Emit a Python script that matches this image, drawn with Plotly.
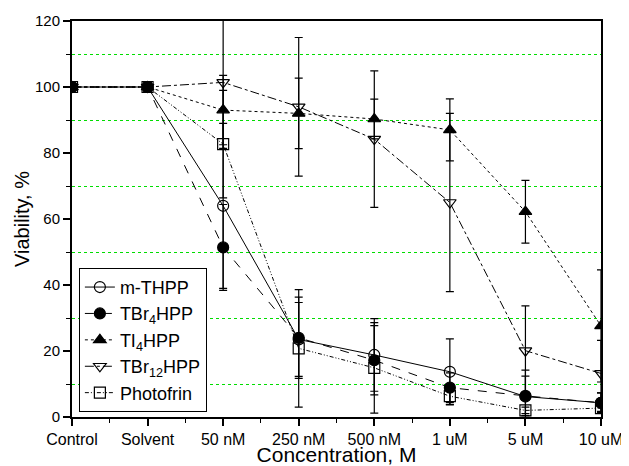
import plotly.graph_objects as go

categories = ["Control", "Solvent", "50 nM", "250 nM", "500 nM", "1 uM", "5 uM", "10 uM"]

mthpp = [100, 100, 64, 23.5, 18.8, 13.7, 6.2, 4.3]
mthpp_err = [0, 1.5, 25, 11.2, 11, 10, 8, 3]

tbr4 = [100, 100, 51.4, 24, 17.2, 8.9, 6.4, 4.3]
tbr4_err = [0, 1.5, 13, 12.3, 10.5, 4.5, 6, 3]

ti4 = [100, 100, 93, 92, 90.3, 87, 62.2, 27.6]
ti4_err = [0, 1.5, 10.5, 10.7, 6, 9.4, 9.5, 17]

tbr12 = [100, 100, 101.4, 94, 84.2, 65, 20.1, 13.2]
tbr12_err = [0, 1.5, 20, 21, 20.7, 27, 13.6, 10]

photofrin = [100, 100, 82.7, 20.8, 14.9, 6.3, 2, 2.7]
photofrin_err = [0, 1.5, 16.3, 17.8, 13.7, 2.5, 1, 1]

names = ["m-THPP", "TBr<sub>4</sub>HPP", "TI<sub>4</sub>HPP", "TBr<sub>12</sub>HPP", "Photofrin"]
series = [mthpp, tbr4, ti4, tbr12, photofrin]
errors = [mthpp_err, tbr4_err, ti4_err, tbr12_err, photofrin_err]
dashes = ["solid", "dash", "dot", "dashdot", "4px,2px,1px,2px,1px,2px"]
symbols = ["circle-open", "circle", "triangle-up", "triangle-down-open", "square-open"]

x = list(range(len(categories)))

fig = go.Figure()
for name, ys, err, dash, sym in zip(names, series, errors, dashes, symbols):
    fig.add_trace(go.Scatter(
        x=x, y=ys, name=name, mode="lines+markers",
        line=dict(color="black", width=1, dash=dash),
        marker=dict(symbol=sym, size=11, color="black",
                    line=dict(color="black", width=1.2)),
        error_y=dict(type="data", array=err, visible=True,
                     color="black", thickness=1.2, width=4),
    ))

font = "Liberation Sans, Arial, sans-serif"
# page body has an 8px margin: figure is sized/offset to compensate
fig.update_layout(
    width=621, height=458,
    margin=dict(l=64, r=28, t=13, b=49),
    paper_bgcolor="white", plot_bgcolor="white",
    font=dict(family=font, color="black", size=15),
    showlegend=True,
    legend=dict(
        x=0.013, y=0.013, xanchor="left", yanchor="bottom",
        bordercolor="black", borderwidth=1, bgcolor="white",
        font=dict(size=18, family=font),
        tracegroupgap=0,
    ),
    xaxis=dict(
        range=[0, 7], tickmode="array", tickvals=x, ticktext=categories,
        showgrid=False, zeroline=False, automargin=False,
        showline=True, linecolor="black", linewidth=2, mirror=True,
        ticks="outside", ticklen=7, tickwidth=1.5, tickcolor="black",
        tickfont=dict(size=16),
        minor=dict(tickmode="array", tickvals=[i + 0.5 for i in range(7)],
                   ticks="outside", ticklen=4, tickwidth=1.2, tickcolor="black"),
        title=dict(text="Concentration, M", font=dict(size=21), standoff=2),
    ),
    yaxis=dict(
        range=[0, 120], tickmode="linear", tick0=0, dtick=20,
        showgrid=False, zeroline=False, automargin=False,
        showline=True, linecolor="black", linewidth=2, mirror=True,
        ticks="outside", ticklen=7, tickwidth=1.5, tickcolor="black",
        tickfont=dict(size=15),
        minor=dict(tick0=10, dtick=20, ticks="outside", ticklen=4, tickwidth=1.2,
                   tickcolor="black", showgrid=True, gridcolor="#00dd00",
                   griddash="dot", gridwidth=1),
        title=dict(text="Viability, %", font=dict(size=20), standoff=0),
    ),
)

fig.write_html("out.html")
